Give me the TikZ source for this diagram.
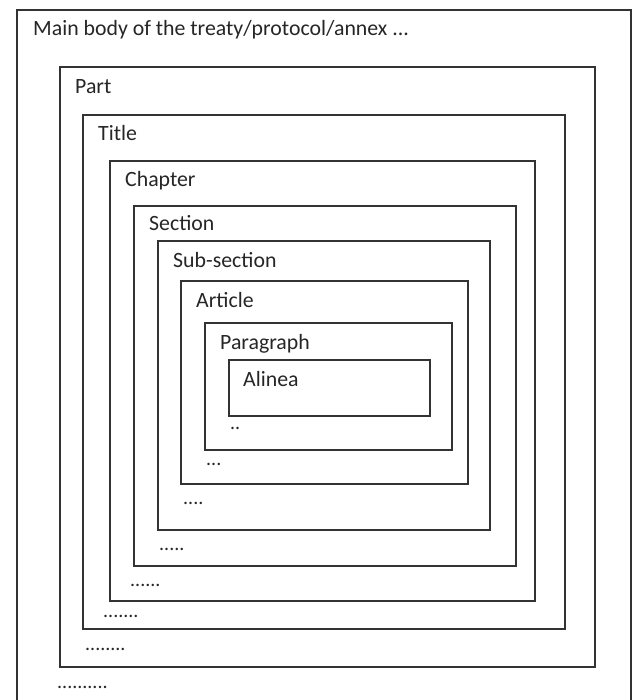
\documentclass[tikz,border=0pt]{standalone}
\usepackage{fontspec}
\setmainfont{Carlito}
\begin{document}
\begin{tikzpicture}[x=1pt,y=-1pt,
  frame/.style={draw=black!80,line width=1.3pt},
  lbl/.style={anchor=base west,inner sep=0pt,text=black!85,font=\fontsize{21.8}{26}\selectfont},
  more/.style={anchor=base west,inner sep=0pt,text=black!85,font=\fontsize{20}{24}\selectfont}]
\useasboundingbox[fill=white] (0,0) rectangle (634,700);
% outermost frame, open at the foot of the page
\draw[frame] (17,705) -- (17,10) -- (631,10) -- (631,705);
% nested frames, outermost to innermost
\draw[frame] (60,67)   rectangle (595,667);
\draw[frame] (83,115)  rectangle (565,629);
\draw[frame] (110,161) rectangle (535,601);
\draw[frame] (134,206) rectangle (516,566);
\draw[frame] (158,241) rectangle (490,530);
\draw[frame] (181,281) rectangle (468,484);
\draw[frame] (205,323) rectangle (452,450);
\draw[frame] (229,360) rectangle (430,416);
% level names
\node[lbl] (main)  at (33,36)   {Main body of the treaty/protocol/annex ...};
\node[lbl] (part)  at (75,94)   {Part};
\node[lbl] (title) at (98,141)  {Title};
\node[lbl] (chap)  at (125,187) {Chapter};
\node[lbl] (sect)  at (149,231) {Section};
\node[lbl] (subs)  at (173,267) {Sub-section};
\node[lbl] (art)   at (196,307) {Article};
\node[lbl] (para)  at (220,349) {Paragraph};
\node[lbl] (alin)  at (243,386) {Alinea};
% continuation marks
\node[more] (m1) at (230,429) {..};
\node[more] (m2) at (206,465) {...};
\node[more] (m3) at (183,504) {....};
\node[more] (m4) at (159,550) {.....};
\node[more] (m5) at (130,586) {......};
\node[more] (m6) at (103,617) {.......};
\node[more] (m7) at (85,650)  {........};
\node[more] (m8) at (57,688)  {..........};
\end{tikzpicture}
\end{document}
